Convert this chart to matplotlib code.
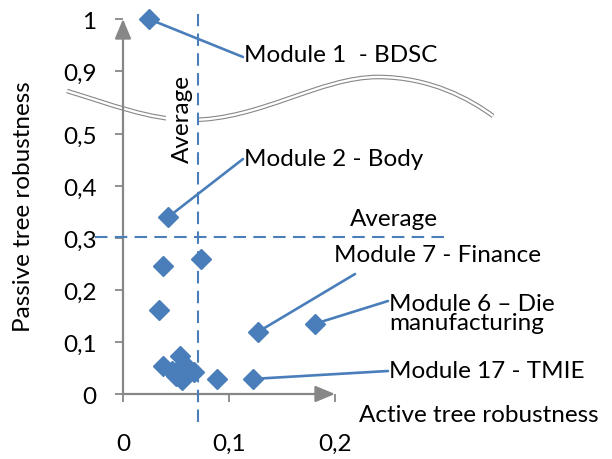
import numpy as np
import matplotlib
matplotlib.use("Agg")
import matplotlib.pyplot as plt
from matplotlib.path import Path
from matplotlib.patches import PathPatch, ArrowStyle

plt.rcParams['font.family'] = ['Lato', 'DejaVu Sans']

# active / passive tree robustness per module
active = [0.0245, 0.0425, 0.0377, 0.0736, 0.034, 0.127, 0.181, 0.1226, 0.0887,
          0.0377, 0.046, 0.054, 0.058, 0.056, 0.061, 0.067, 0.050]
passive = [1.0, 0.340, 0.246, 0.260, 0.162, 0.119, 0.135, 0.029, 0.029,
           0.054, 0.044, 0.073, 0.058, 0.027, 0.040, 0.042, 0.035]
avg_active = 0.0708
avg_passive = 0.302

# labelled modules: (index into arrays, text)
labelled = [(0, "Module 1  - BDSC"), (1, "Module 2 - Body"), (5, "Module 7 - Finance"),
            (6, "Module 6 \u2013 Die\nmanufacturing"), (7, "Module 17 - TMIE")]

yticks = [0, 0.1, 0.2, 0.3, 0.4, 0.5, 0.9, 1.0]
ytick_labels = ['0', '0,1', '0,2', '0,3', '0,4', '0,5', '0,9', '1']
xticks = [0, 0.1, 0.2]
xtick_labels = ['0', '0,1', '0,2']

BLUE = '#4A7EBB'
GRAY = '#878787'
FS = 17.5
W, H = 612, 460


def ydisp(v):
    # broken y axis: 0.5..0.9 cut out
    v = np.asarray(v, dtype=float)
    return np.where(v > 0.5, v - 0.9 + 0.621, v)


def fpx(x, y):
    # pixel position (top-left origin) -> figure fraction
    return x / W, 1 - y / H


fig = plt.figure(figsize=(W / 100, H / 100), dpi=100)
ax = fig.add_axes([123 / W, 1 - 395 / H, (335 - 123) / W, (395 - 20) / H])
ax.set_xlim(0, 0.2)
ax.set_ylim(0, 375 / 520)
for s in ax.spines.values():
    s.set_visible(False)

ax.set_xticks(xticks)
ax.set_xticklabels(xtick_labels)
ax.set_yticks(ydisp(yticks))
ax.set_yticklabels(ytick_labels)
ax.tick_params(axis='both', direction='out', length=6, width=1.3, color=GRAY,
               labelsize=FS, labelcolor='black')
ax.tick_params(axis='x', pad=22)
ax.tick_params(axis='y', pad=13)

# axis arrows
head = ArrowStyle('-|>', head_length=1.2, head_width=0.5)
ax.annotate('', xy=(0, 375 / 520), xytext=(0, 0), zorder=2,
            arrowprops=dict(arrowstyle=head, color=GRAY, lw=1.6, shrinkA=0, shrinkB=0))
ax.annotate('', xy=(0.2, 0), xytext=(0, 0), zorder=2,
            arrowprops=dict(arrowstyle=head, color=GRAY, lw=1.6, shrinkA=0, shrinkB=0))

# axis break wave
verts = [(67, 92), (110, 105), (150, 121), (190, 121),
         (260, 121), (320, 78), (378, 78),
         (430, 78), (470, 100), (493, 117)]
codes = [Path.MOVETO] + [Path.CURVE4] * 9
wave = Path([fpx(*p) for p in verts], codes)
ax.add_patch(PathPatch(wave, fc='none', ec=GRAY, lw=3.3, transform=fig.transFigure,
                       clip_on=False, zorder=1))
ax.add_patch(PathPatch(wave, fc='none', ec='white', lw=1.7, transform=fig.transFigure,
                       clip_on=False, zorder=1.1))

# average lines
ax.plot([-0.026, 0.304], [avg_passive] * 2, color=BLUE, lw=1.5, dashes=(6, 3.5),
        clip_on=False, zorder=3)
ax.plot([avg_active] * 2, [-0.054, 0.731], color=BLUE, lw=1.5, dashes=(6, 3.5),
        clip_on=False, zorder=3)

ax.plot(active, ydisp(passive), 'D', ms=10.5, color=BLUE, mec=BLUE, clip_on=False, zorder=4)

# leader lines + labels
line_ends = [(243, 58), (243, 160), (355, 275), (388, 302), (388, 372)]
text_pos = [(244, 56), (244, 160), (334, 256), (389, 314), (389, 372)]
for (i, txt), (lx, ly), (tx, ty) in zip(labelled, line_ends, text_pos):
    ax.annotate('', xy=(active[i], float(ydisp(passive[i]))), xycoords='data',
                xytext=(lx, H - ly), textcoords='figure pixels',
                arrowprops=dict(arrowstyle='-', color=BLUE, lw=1.9, shrinkA=0, shrinkB=6),
                zorder=3)
    fig.text(*fpx(tx, ty), txt, fontsize=FS, ha='left', va='center', linespacing=0.9)

fig.text(*fpx(350, 220), "Average", fontsize=FS, ha='left', va='center')
ax.text(*fpx(182, 119), "Average", fontsize=FS, ha='center', va='center', rotation=90,
        transform=fig.transFigure, zorder=2.5,
        bbox=dict(fc='white', ec='none', pad=4))

fig.text(*fpx(359, 416), "Active tree robustness", fontsize=FS, ha='left', va='center')
fig.text(*fpx(24, 207), "Passive tree robustness", fontsize=FS, ha='center', va='center',
         rotation=90)

fig.savefig('out.png', dpi=100)
